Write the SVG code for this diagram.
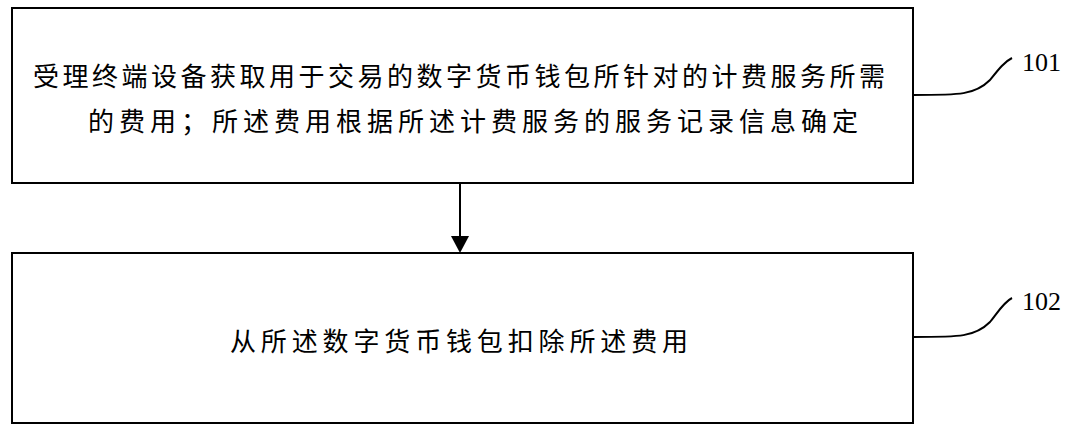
<svg xmlns="http://www.w3.org/2000/svg" width="1080" height="432" viewBox="0 0 1080 432">
<style>
.box{fill:#fff;stroke:#000;stroke-width:2}
.t{font-family:"Liberation Serif","Noto Sans CJK SC",serif;font-size:26px;fill:#000}
.n{font-family:"Liberation Serif",serif;font-size:26px;fill:#000}
.c{fill:none;stroke:#000;stroke-width:2}
</style>
<defs><marker id="a" markerWidth="10" markerHeight="10" refX="9" refY="5" orient="auto" markerUnits="userSpaceOnUse"><path d="M0,0 L10,5 L0,10z" transform="scale(1.6) translate(-4,-2)"/></marker></defs>
<rect width="1080" height="432" fill="#fff"/>
<g id="n101">
<rect class="box" x="12" y="8" width="901" height="175"/>
<text class="t" x="33" y="86" textLength="852" lengthAdjust="spacing">受理终端设备获取用于交易的数字货币钱包所针对的计费服务所需</text>
<text class="t" x="88" y="131" textLength="770" lengthAdjust="spacing">的费用；所述费用根据所述计费服务的服务记录信息确定</text>
<text class="n" x="1022" y="71">101</text>
</g>
<g id="n102">
<rect class="box" x="12" y="253" width="901" height="170"/>
<text class="t" x="230" y="351" textLength="458" lengthAdjust="spacing">从所述数字货币钱包扣除所述费用</text>
<text class="n" x="1022" y="310">102</text>
</g>
<g id="connectors">
<line class="c" x1="460" y1="183" x2="460" y2="238"/>
<path d="M451,236 L469,236 L460,253z"/>
<path class="c" d="M913,95 C960,95 975,95 990,80 C998,70 1004,62 1012,58"/>
<path class="c" d="M913,337 C960,337 975,337 990,322 C998,312 1004,302 1012,298"/>
</g>
</svg>
